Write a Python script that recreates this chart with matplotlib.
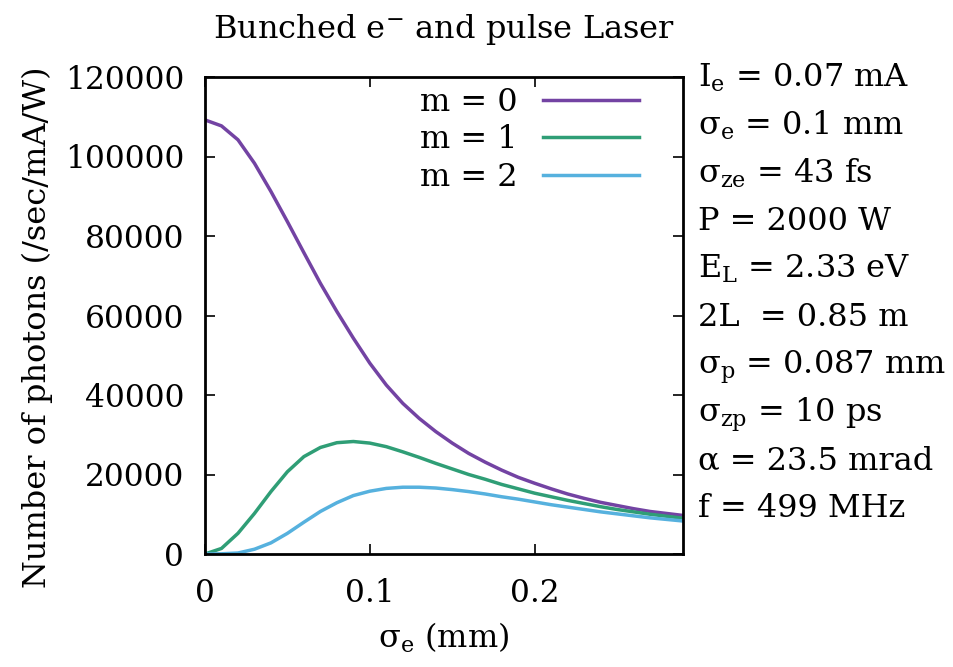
import matplotlib
matplotlib.use("Agg")
import matplotlib.pyplot as plt

# sigma_e (mm) sample points
sigma_e = [0.00, 0.01, 0.02, 0.03, 0.04, 0.05, 0.06, 0.07, 0.08, 0.09,
           0.10, 0.11, 0.12, 0.13, 0.14, 0.15, 0.16, 0.17, 0.18, 0.19,
           0.20, 0.21, 0.22, 0.23, 0.24, 0.25, 0.26, 0.27, 0.28, 0.29]

# number of photons (/sec/mA/W)
m0 = [109200, 107700, 104200, 98300, 91200, 83600, 75800, 68100, 61000, 54300,
      48000, 42500, 37900, 34100, 30800, 27900, 25300, 23100, 21100, 19300,
      17800, 16400, 15100, 14000, 13000, 12200, 11400, 10700, 10200, 9700]
m1 = [0, 1400, 5200, 10200, 15700, 20700, 24500, 26800, 28000, 28300,
      27900, 27000, 25700, 24300, 22800, 21400, 20000, 18800, 17500, 16400,
      15300, 14400, 13500, 12700, 11900, 11200, 10600, 10000, 9500, 9000]
m2 = [0, 50, 250, 1200, 2800, 5200, 8000, 10700, 12900, 14700,
      15800, 16500, 16800, 16800, 16600, 16200, 15700, 15100, 14400, 13800,
      13100, 12400, 11800, 11200, 10600, 10100, 9600, 9100, 8700, 8300]

series_labels = ["m = 0", "m = 1", "m = 2"]
colors = ["#7343a3", "#2f9e76", "#56b1de"]

xticks = [0, 0.1, 0.2]
xticklabels = ["0", "0.1", "0.2"]
yticks = [0, 20000, 40000, 60000, 80000, 100000, 120000]

params = [
    r"I$_\mathrm{e}$ = 0.07 mA",
    r"σ$_\mathrm{e}$ = 0.1 mm",
    r"σ$_\mathrm{ze}$ = 43 fs",
    "P = 2000 W",
    r"E$_\mathrm{L}$ = 2.33 eV",
    "2L  = 0.85 m",
    r"σ$_\mathrm{p}$ = 0.087 mm",
    r"σ$_\mathrm{zp}$ = 10 ps",
    "α = 23.5 mrad",
    "f = 499 MHz",
]

plt.rcParams["font.family"] = ["DejaVu Serif"]
plt.rcParams["mathtext.fontset"] = "dejavuserif"
FS = 23
TICK_FS = 22.5

W, H = 954, 667
fig = plt.figure(figsize=(W / 100, H / 100), dpi=100)
ax = fig.add_axes([205 / W, 1 - 554 / H, (683 - 205) / W, (554 - 77) / H])

for y, lab, c in zip([m0, m1, m2], series_labels, colors):
    ax.plot(sigma_e, y, color=c, lw=2.5, label=lab)

ax.set_xlim(0, 0.29)
ax.set_ylim(0, 120000)
ax.set_xticks(xticks)
ax.set_xticklabels(xticklabels)
ax.set_yticks(yticks)
ax.set_yticklabels([str(v) for v in yticks])
ax.tick_params(direction="in", length=7, width=1.2, labelsize=TICK_FS,
               top=True, right=True)
ax.tick_params(axis="x", pad=17)
ax.tick_params(axis="y", pad=15)
for s in ax.spines.values():
    s.set_linewidth(2.0)

ax.set_xlabel(r"σ$_\mathrm{e}$ (mm)", fontsize=FS, labelpad=9)
ax.set_ylabel("Number of photons (/sec/mA/W)", fontsize=FS)
ax.yaxis.set_label_coords(-0.318, 0.476)

fig.text(444 / W, 1 - 38 / H, r"Bunched e$^{-}$ and pulse Laser",
         fontsize=FS, ha="center", va="baseline")

ax.legend(loc="upper right", bbox_to_anchor=(639 / W, 1 - 87 / H),
          bbox_transform=fig.transFigure, frameon=False, markerfirst=False,
          fontsize=FS, handlelength=3.0, handletextpad=0.8,
          labelspacing=0.2, borderpad=0, borderaxespad=0)

for i, t in enumerate(params):
    fig.text(698 / W, 1 - (87 + 47.8 * i) / H, t, fontsize=FS,
             ha="left", va="baseline")

fig.savefig("out.png", dpi=100)
